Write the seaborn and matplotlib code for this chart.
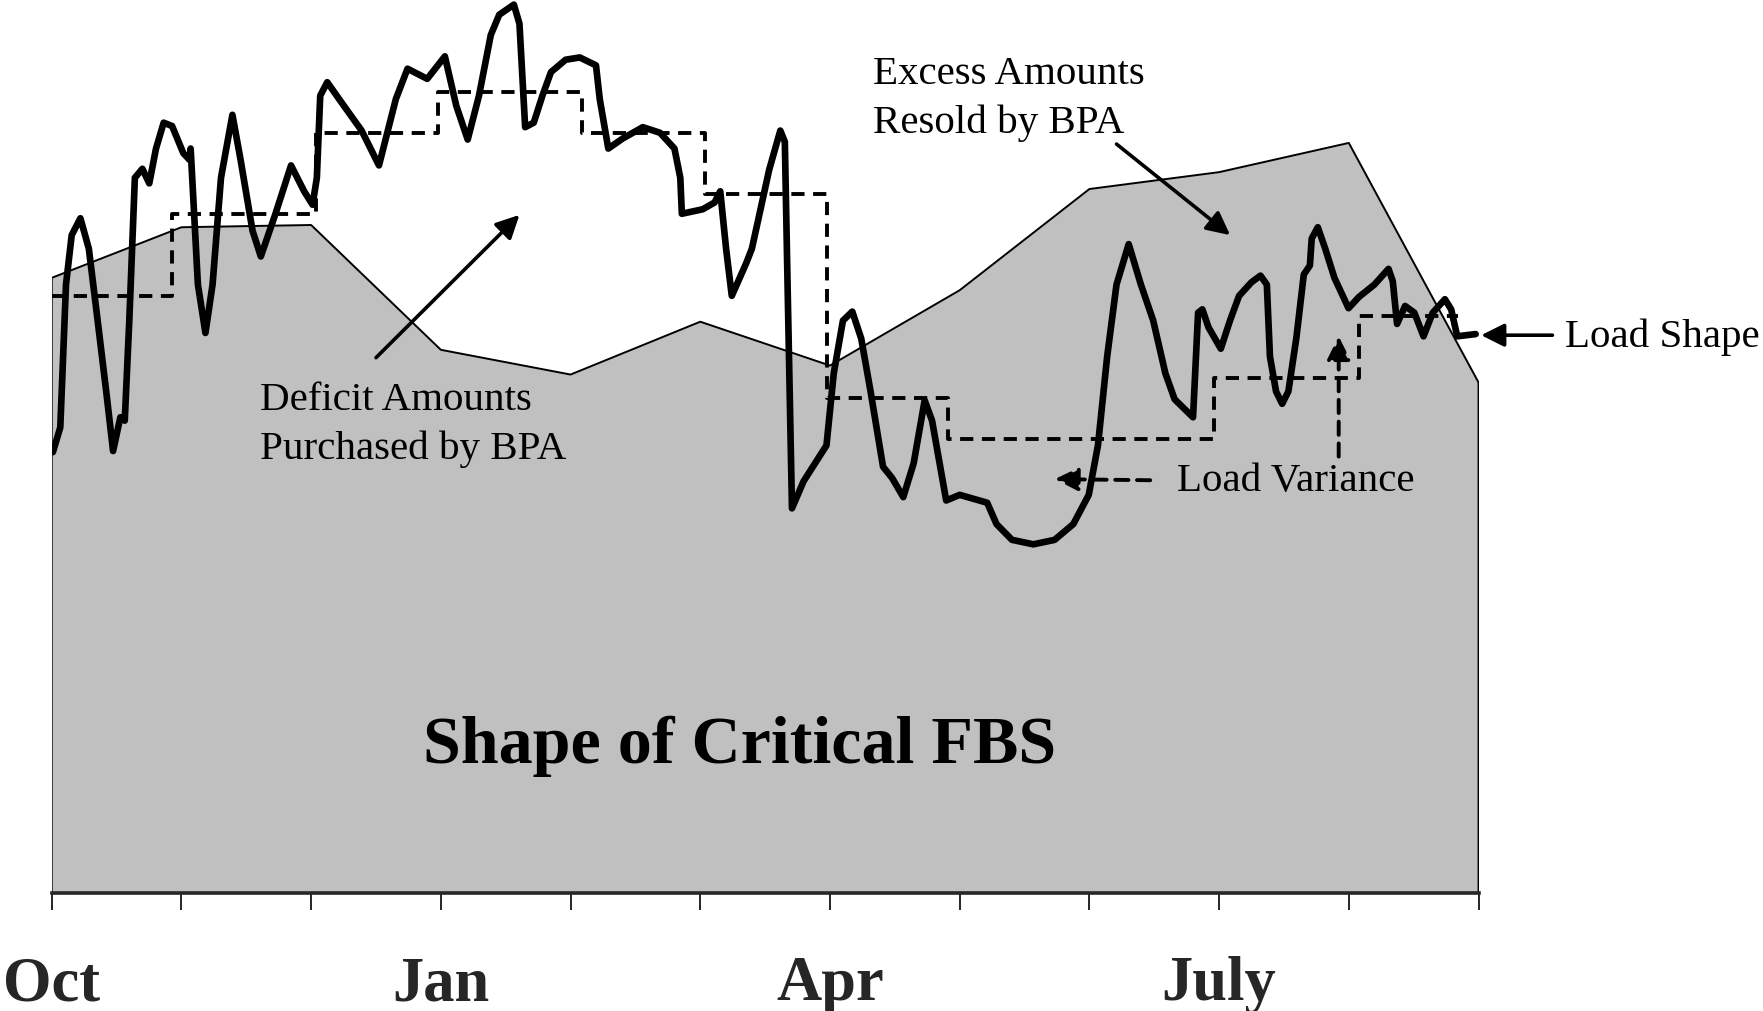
import numpy as np
import pandas as pd
import matplotlib
matplotlib.use("Agg")
import matplotlib.pyplot as plt
import seaborn as sns

# --- data (x in months from Oct 1, y in relative load units) ---
fbs_month = [0, 1, 2, 3, 4, 5, 6, 7, 8, 9, 10, 11]
fbs_value = [547, 592, 594, 483, 461, 508, 469, 536, 626, 641, 667, 454]

load_month = [
    0.009, 0.066, 0.110, 0.154, 0.221, 0.286, 0.354, 0.420, 0.473, 0.529, 0.563, 0.598,
    0.641, 0.699, 0.752, 0.804, 0.863, 0.928, 1.014, 1.062, 1.071, 1.127, 1.185, 1.240,
    1.305, 1.393, 1.456, 1.548, 1.612, 1.725, 1.845, 1.946, 2.011, 2.044, 2.070, 2.124,
    2.234, 2.389, 2.523, 2.653, 2.743, 2.895, 3.031, 3.119, 3.207, 3.294, 3.385, 3.450,
    3.563, 3.606, 3.650, 3.716, 3.783, 3.849, 3.962, 4.071, 4.196, 4.225, 4.291, 4.403,
    4.557, 4.690, 4.801, 4.846, 4.858, 5.019, 5.110, 5.154, 5.199, 5.243, 5.354, 5.398,
    5.531, 5.617, 5.652, 5.673, 5.707, 5.796, 5.973, 6.029, 6.100, 6.172, 6.241, 6.313,
    6.409, 6.479, 6.565, 6.645, 6.730, 6.787, 6.859, 6.896, 7.000, 7.212, 7.284, 7.403,
    7.568, 7.732, 7.876, 7.995, 8.066, 8.137, 8.209, 8.303, 8.397, 8.492, 8.586, 8.657,
    8.799, 8.838, 8.871, 8.918, 9.013, 9.084, 9.154, 9.249, 9.319, 9.368, 9.392, 9.439,
    9.486, 9.534, 9.595, 9.653, 9.700, 9.714, 9.761, 9.818, 9.889, 9.998, 10.078, 10.197,
    10.306, 10.339, 10.372, 10.434, 10.505, 10.576, 10.647, 10.741, 10.789, 10.836, 10.905, 10.978,
]
load_value = [
    392, 414, 541, 585, 600, 573, 509, 446, 393, 423, 420, 509,
    636, 644, 631, 662, 685, 682, 658, 652, 662, 541, 498, 541,
    636, 692, 652, 589, 566, 604, 647, 624, 612, 636, 709, 721,
    703, 678, 647, 706, 733, 724, 744, 700, 670, 709, 763, 781,
    790, 773, 681, 685, 709, 730, 741, 743, 736, 706, 662, 671,
    681, 676, 662, 636, 604, 608, 614, 624, 573, 531, 560, 573,
    643, 678, 668, 541, 342, 366, 398, 462, 509, 517, 493, 446,
    379, 369, 352, 382, 438, 420, 373, 349, 354, 347, 328, 314,
    310, 314, 328, 354, 398, 477, 541, 577, 541, 509, 462, 439,
    423, 516, 519, 503, 484, 509, 531, 543, 549, 541, 477, 446,
    435, 446, 493, 550, 558, 582, 592, 573, 547, 520, 530, 541,
    555, 544, 506, 522, 516, 495, 516, 528, 519, 495, 496, 497,
]

variance_edges = [0, 0.93, 2.04, 2.98, 4.09, 5.04, 5.98, 6.91, 8.96, 10.08, 10.84]
variance_value = [531, 604, 676, 712, 676, 622, 440, 404, 458, 513]

tick_labels = ["Oct", "", "", "Jan", "", "", "Apr", "", "", "July", "", ""]

# --- style ---
sns.set_style("white")
plt.rcParams["font.family"] = ["Liberation Serif", "DejaVu Serif"]

fig = plt.figure(figsize=(17.63, 10.12), dpi=100)
ax = fig.add_axes([0.02934, 0.1167, 0.8093, 0.8833])

dash = (0, (3.4, 2.2))

# critical FBS shape
ax.fill_between(fbs_month, fbs_value, 0, color="#c0c0c0", linewidth=0, zorder=1)
edge_x = [fbs_month[0]] + fbs_month + [fbs_month[-1]]
edge_y = [0] + fbs_value + [0]
ax.plot(edge_x, edge_y, color="black", lw=1.4, zorder=2)

# monthly load variance (dashed steps)
var_df = pd.DataFrame({"month": variance_edges,
                       "value": variance_value + [variance_value[-1]]})
sns.lineplot(data=var_df, x="month", y="value", ax=ax, color="black", lw=2.8,
             drawstyle="steps-post", linestyle=dash, sort=False,
             estimator=None, zorder=3)

# load shape
load_df = pd.DataFrame({"month": load_month, "value": load_value})
sns.lineplot(data=load_df, x="month", y="value", ax=ax, color="black", lw=4.8,
             sort=False, estimator=None, solid_joinstyle="round",
             solid_capstyle="round", zorder=4)

ax.set_xlim(0, 11)
ax.set_ylim(0, 795)
ax.set_xlabel("")
ax.set_ylabel("")
ax.set_yticks([])
for side in ["top", "left", "right"]:
    ax.spines[side].set_visible(False)
ax.spines["bottom"].set_linewidth(2.6)
ax.spines["bottom"].set_zorder(5)
ax.set_xticks(range(12))
ax.set_xticklabels(tick_labels, fontsize=45, fontweight="bold")
ax.tick_params(axis="x", direction="out", length=12, width=1.2, pad=33,
               bottom=True, color="black")
ax.patch.set_alpha(0)

# --- labels and arrows ---
txt = dict(fontsize=29.5, color="black")
arrow = dict(arrowstyle="-|>", color="black", lw=2.6, mutation_scale=35,
             shrinkA=0, shrinkB=0)
dashed_arrow = dict(arrow, linestyle=dash, lw=2.8)

ax.text(6.328, 707, "Excess Amounts\nResold by BPA", ha="left", va="center",
        linespacing=1.38, **txt)
ax.annotate("", xy=(9.085, 585), xytext=(8.209, 666), arrowprops=arrow,
            annotation_clip=False)

ax.text(1.604, 417, "Deficit Amounts\nPurchased by BPA", ha="left", va="center",
        linespacing=1.38, **txt)
ax.annotate("", xy=(3.606, 603), xytext=(2.500, 476), arrowprops=arrow,
            annotation_clip=False)

ax.text(8.677, 367, "Load Variance", ha="left", va="center", **txt)
ax.annotate("", xy=(7.734, 368), xytext=(8.469, 367), arrowprops=dashed_arrow,
            annotation_clip=False)
ax.annotate("", xy=(9.922, 495), xytext=(9.922, 388), arrowprops=dashed_arrow,
            annotation_clip=False)

ax.text(11.668, 495, "Load Shape", ha="left", va="center", clip_on=False, **txt)
ax.annotate("", xy=(11.02, 496), xytext=(11.57, 496), arrowprops=arrow,
            annotation_clip=False)

ax.text(5.301, 116, "Shape of Critical FBS", ha="center", va="baseline",
        fontsize=49, fontweight="bold", color="black")

fig.savefig("out.png", dpi=100)
